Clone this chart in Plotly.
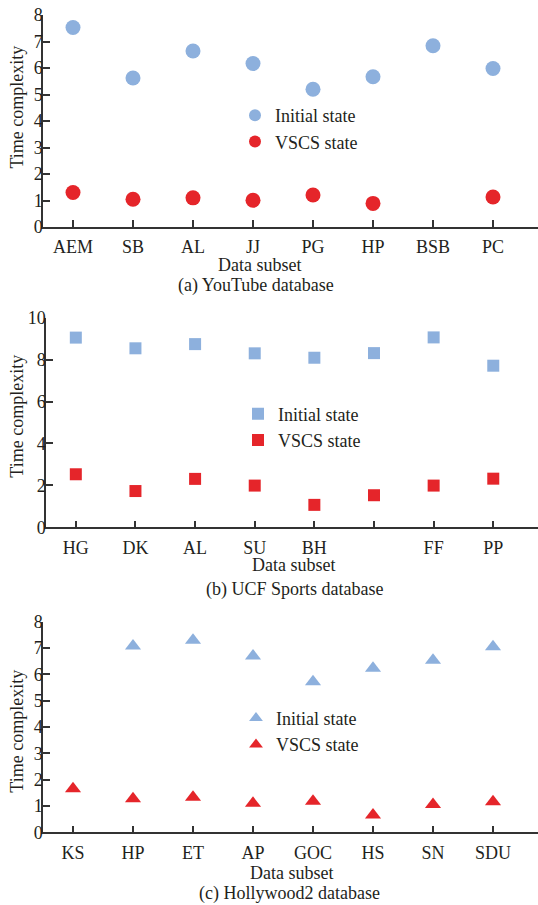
import plotly.graph_objects as go

# ---------------- data ----------------
yt_labels = ["AEM", "SB", "AL", "JJ", "PG", "HP", "BSB", "PC"]
yt_initial = [7.53, 5.62, 6.64, 6.17, 5.20, 5.67, 6.84, 5.98]
yt_vscs = [1.30, 1.05, 1.10, 1.01, 1.21, 0.89, None, 1.13]

ucf_labels = ["HG", "DK", "AL", "SU", "BH", "", "FF", "PP"]
ucf_initial = [9.05, 8.54, 8.74, 8.30, 8.09, 8.31, 9.06, 7.71]
ucf_vscs = [2.53, 1.73, 2.31, 1.99, 1.07, 1.53, 1.99, 2.32]

hw_labels = ["KS", "HP", "ET", "AP", "GOC", "HS", "SN", "SDU"]
hw_initial = [8.06, 7.08, 7.30, 6.70, 5.72, 6.23, 6.54, 7.05]
hw_vscs = [1.65, 1.27, 1.33, 1.10, 1.18, 0.66, 1.06, 1.16]

series_names = ["Initial state", "VSCS state"]
captions = ["(a) YouTube database", "(b) UCF Sports database", "(c) Hollywood2 database"]
y_title = "Time complexity"
x_title = "Data subset"

# ---------------- style ----------------
BLUE = "#8DB0DD"
RED = "#E5252A"
FONT = "Liberation Serif"
TXT = "#231f20"
AX = "#333333"
W, H = 538, 905

panels = [
    dict(labels=yt_labels, init=yt_initial, vscs=yt_vscs, symbol="circle", size=15,
         yrange=[0, 8], dtick=1, xdom=[43 / W, 1], ydom=[(H - 227) / H, (H - 15) / H],
         leg=dict(x=235 / W, y=(H - 128.5) / H),
         ytitle_y=107.5, xtitle=(259.5, 265), cap=(256, 285)),
    dict(labels=ucf_labels, init=ucf_initial, vscs=ucf_vscs, symbol="square", size=12,
         yrange=[0, 10], dtick=2, xdom=[46 / W, 1], ydom=[(H - 527.3) / H, (H - 317.7) / H],
         leg=dict(x=238 / W, y=(H - 427) / H),
         ytitle_y=416.7, xtitle=(293.7, 565), cap=(294, 589.3)),
    dict(labels=hw_labels, init=hw_initial, vscs=hw_vscs, symbol="triangle-up", size=14,
         yrange=[0, 8], dtick=1, xdom=[43 / W, 1], ydom=[(H - 832.3) / H, (H - 621.7) / H],
         leg=dict(x=236 / W, y=(H - 731.3) / H),
         ytitle_y=731.7, xtitle=(291.7, 873.3), cap=(289.7, 893.3)),
]

fig = go.Figure()
annotations = []
layout = {}

for i, p in enumerate(panels):
    n = i + 1
    xa = "x" if n == 1 else f"x{n}"
    ya = "y" if n == 1 else f"y{n}"
    legname = "legend" if n == 1 else f"legend{n}"
    xs = list(range(len(p["labels"])))
    for name, vals, col in [(series_names[0], p["init"], BLUE), (series_names[1], p["vscs"], RED)]:
        fig.add_trace(go.Scatter(
            x=xs, y=vals, mode="markers", name=name, xaxis=xa, yaxis=ya, legend=legname,
            marker=dict(symbol=p["symbol"], size=p["size"], color=col, line=dict(width=0)),
            cliponaxis=False,
        ))
    xkey = "xaxis" if n == 1 else f"xaxis{n}"
    ykey = "yaxis" if n == 1 else f"yaxis{n}"
    layout[xkey] = dict(
        domain=p["xdom"], anchor=ya, range=[-0.5, 7.75], tickmode="array",
        tickvals=xs, ticktext=p["labels"], ticks="inside", ticklen=7, tickwidth=1.5,
        tickcolor=AX, showline=True, linecolor=AX, linewidth=1.5, showgrid=False,
        zeroline=False, tickfont=dict(family=FONT, size=18, color=TXT),
        ticklabelstandoff=3, automargin=False,
    )
    layout[ykey] = dict(
        domain=p["ydom"], anchor=xa, range=p["yrange"], dtick=p["dtick"], tick0=0,
        ticks="inside", ticklen=7, tickwidth=1.5, tickcolor=AX, showline=True,
        linecolor=AX, linewidth=1.5, showgrid=False, zeroline=False,
        tickfont=dict(family=FONT, size=18, color=TXT), ticklabelstandoff=-5,
        automargin=False,
    )
    layout[legname] = dict(
        x=p["leg"]["x"], y=p["leg"]["y"], xanchor="left", yanchor="middle",
        bgcolor="rgba(0,0,0,0)", font=dict(family=FONT, size=18, color=TXT),
        itemsizing="constant", tracegroupgap=0,
    )
    annotations.append(dict(
        text=y_title, textangle=-90, x=17 / W, y=(H - p["ytitle_y"]) / H,
        xref="paper", yref="paper", showarrow=False, xanchor="center", yanchor="middle",
        font=dict(family=FONT, size=18, color=TXT)))
    annotations.append(dict(
        text=x_title, x=p["xtitle"][0] / W, y=(H - p["xtitle"][1]) / H,
        xref="paper", yref="paper", showarrow=False, xanchor="center", yanchor="middle",
        font=dict(family=FONT, size=18, color=TXT)))
    annotations.append(dict(
        text=captions[i], x=p["cap"][0] / W, y=(H - p["cap"][1]) / H,
        xref="paper", yref="paper", showarrow=False, xanchor="center", yanchor="middle",
        font=dict(family=FONT, size=18, color=TXT)))

fig.update_layout(
    width=W, height=H, margin=dict(l=0, r=0, t=0, b=0, autoexpand=False),
    paper_bgcolor="white", plot_bgcolor="white",
    annotations=annotations, showlegend=True, **layout,
)

fig.write_html(
    "out.html",
    config={"displayModeBar": False},
    post_script="document.body.style.margin='0';document.body.style.overflow='hidden';",
)
